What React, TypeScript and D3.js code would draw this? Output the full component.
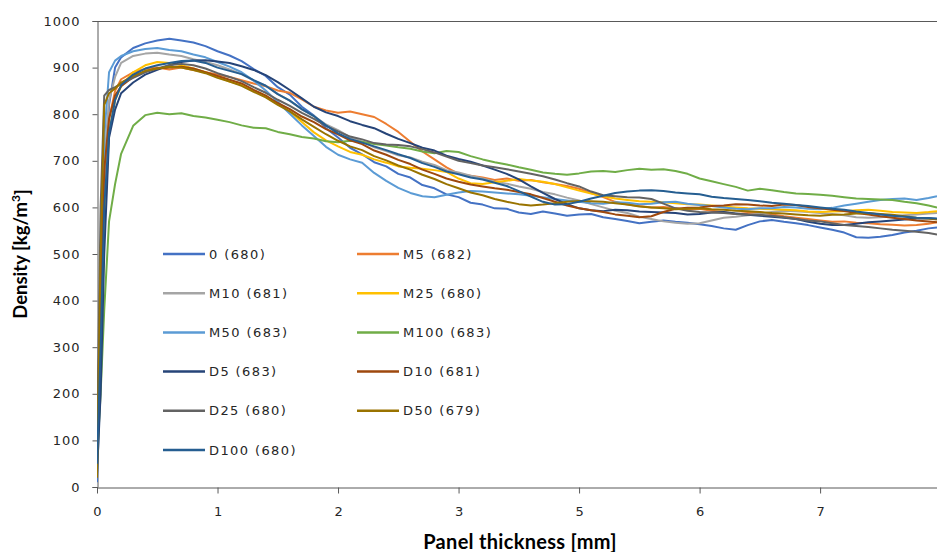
import React, { useEffect, useRef } from 'react';
import * as d3 from 'd3';

// depth positions along the axis (axis units, one unit per tick)
const depth = [0, 0.03, 0.06, 0.1, 0.15, 0.2, 0.3, 0.4, 0.5, 0.6, 0.7, 0.8, 0.9,
  1.0, 1.1, 1.2, 1.3, 1.4, 1.5, 1.6, 1.7, 1.8, 1.9,
  2.0, 2.1, 2.2, 2.3, 2.4, 2.5, 2.6, 2.7, 2.8, 2.9,
  3.0, 3.1, 3.2, 3.3, 3.4, 3.5, 3.6, 3.7, 3.8, 3.9,
  4.0, 4.1, 4.2, 4.3, 4.4, 4.5, 4.6, 4.7, 4.8, 4.9,
  5.0, 5.1, 5.2, 5.3, 5.4, 5.5, 5.6, 5.7, 5.8, 5.9,
  6.0, 6.1, 6.2, 6.3, 6.4, 6.5, 6.6, 6.7, 6.8, 6.9, 6.97];

const xTickLabels = ['0', '1', '2', '3', '5', '6', '7'];
const yTicks = [0, 100, 200, 300, 400, 500, 600, 700, 800, 900, 1000];

const s0 = [10, 250, 600, 820, 900, 922, 942, 952, 958, 962, 958, 954, 946,
  935, 926, 914, 897, 882, 858, 842, 816, 797, 770,
  750, 728, 714, 697, 688, 672, 664, 648, 641, 628,
  622, 610, 606, 598, 597, 589, 586, 591, 587, 582,
  585, 586, 579, 575, 571, 566, 569, 572, 569, 567,
  564, 560, 555, 552, 562, 570, 573, 569, 566, 562,
  557, 552, 546, 536, 535, 537, 541, 546, 550, 555, 557];
const m5 = [100, 300, 600, 790, 850, 875, 890, 897, 900, 896, 900, 895, 890,
  885, 880, 873, 866, 860, 851, 846, 832, 816, 808,
  803, 806, 800, 794, 779, 762, 741, 720, 703, 686,
  672, 668, 664, 659, 662, 657, 659, 654, 650, 646,
  640, 631, 622, 612, 606, 603, 600, 601, 598, 595,
  597, 593, 590, 586, 588, 590, 585, 581, 578, 575,
  572, 569, 570, 567, 566, 564, 563, 561, 562, 565, 568];
const m10 = [150, 450, 700, 830, 880, 910, 925, 930, 932, 928, 925, 918, 912,
  905, 896, 886, 872, 861, 843, 829, 810, 796, 778,
  766, 751, 741, 729, 721, 712, 707, 698, 691, 680,
  675, 668, 662, 655, 651, 645, 640, 633, 628, 621,
  615, 607, 600, 593, 588, 580, 575, 570, 567, 565,
  566, 572, 578, 580, 583, 586, 590, 593, 592, 590,
  588, 586, 583, 579, 578, 579, 581, 583, 585, 587, 588];
const m25 = [40, 250, 550, 760, 830, 860, 890, 905, 912, 910, 905, 898, 890,
  880, 870, 863, 851, 840, 822, 806, 783, 761, 744,
  731, 719, 713, 703, 696, 688, 685, 683, 680, 676,
  662, 652, 650, 654, 657, 661, 658, 655, 650, 643,
  636, 630, 624, 619, 616, 613, 612, 611, 609, 607,
  606, 604, 602, 600, 598, 597, 596, 595, 594, 591,
  590, 591, 592, 594, 595, 593, 590, 589, 588, 590, 592];
const m50 = [30, 350, 750, 890, 915, 925, 935, 940, 942, 938, 935, 928, 922,
  912, 902, 890, 872, 851, 826, 801, 776, 753, 730,
  713, 703, 696, 674, 657, 642, 631, 624, 622, 627,
  632, 635, 634, 632, 630, 628, 625, 622, 618, 615,
  612, 609, 608, 611, 610, 607, 608, 611, 612, 608,
  605, 603, 600, 597, 596, 598, 598, 601, 600, 597,
  596, 599, 604, 608, 612, 616, 618, 619, 616, 620, 624];
const m100 = [60, 200, 380, 570, 650, 715, 775, 798, 803, 800, 802, 796, 793,
  788, 783, 776, 771, 770, 762, 757, 751, 748, 742,
  740, 743, 741, 736, 733, 729, 726, 720, 716, 721,
  719, 710, 703, 697, 692, 686, 681, 675, 672, 670,
  673, 677, 678, 676, 680, 683, 681, 682, 678, 672,
  662, 656, 650, 644, 636, 640, 637, 633, 630, 629,
  627, 625, 622, 619, 618, 617, 616, 612, 609, 604, 600];
const d5 = [30, 200, 500, 750, 810, 845, 868, 885, 895, 905, 912, 915, 916,
  913, 910, 903, 895, 884, 869, 852, 834, 816, 804,
  796, 785, 777, 770, 758, 747, 738, 728, 722, 711,
  704, 698, 690, 681, 672, 660, 645, 631, 618, 607,
  598, 594, 592, 595, 594, 591, 590, 589, 588, 585,
  586, 589, 590, 587, 584, 582, 580, 578, 575, 569,
  565, 562, 562, 565, 568, 570, 572, 574, 576, 576, 575];
const d10 = [120, 400, 680, 790, 840, 860, 880, 892, 898, 900, 902, 898, 890,
  882, 874, 866, 852, 840, 824, 811, 795, 783, 768,
  757, 744, 736, 722, 713, 702, 693, 681, 672, 662,
  655, 649, 645, 641, 638, 633, 628, 620, 612, 604,
  598, 594, 590, 585, 582, 579, 581, 590, 597, 599,
  600, 603, 604, 607, 606, 604, 603, 606, 605, 601,
  598, 595, 592, 588, 585, 581, 578, 575, 572, 570, 568];
const d25 = [80, 600, 840, 852, 858, 865, 878, 890, 898, 905, 908, 905, 898,
  888, 880, 871, 858, 846, 831, 818, 803, 790, 775,
  763, 752, 746, 738, 735, 734, 731, 725, 718, 709,
  700, 695, 690, 686, 682, 677, 672, 667, 660, 652,
  645, 634, 626, 624, 622, 621, 618, 608, 598, 593,
  590, 589, 588, 586, 585, 584, 582, 579, 575, 572,
  570, 566, 562, 560, 558, 555, 552, 550, 548, 545, 542];
const d50 = [20, 500, 820, 845, 855, 868, 882, 893, 898, 902, 900, 895, 888,
  878, 870, 861, 848, 836, 820, 806, 789, 773, 757,
  743, 731, 723, 710, 701, 690, 681, 670, 661, 650,
  641, 632, 626, 618, 612, 607, 604, 606, 609, 612,
  614, 613, 612, 609, 606, 602, 600, 598, 596, 597,
  598, 596, 595, 593, 592, 590, 588, 587, 585, 583,
  582, 584, 585, 587, 588, 586, 584, 581, 578, 576, 574];
const d100 = [50, 300, 600, 760, 830, 862, 885, 898, 905, 910, 914, 915, 910,
  900, 893, 886, 873, 861, 843, 829, 811, 796, 776,
  759, 747, 739, 731, 723, 714, 706, 695, 687, 677,
  671, 664, 660, 653, 646, 635, 623, 612, 606, 607,
  612, 619, 625, 631, 634, 636, 637, 635, 632, 630,
  628, 623, 620, 618, 616, 613, 610, 608, 605, 603,
  600, 597, 595, 591, 588, 585, 582, 580, 578, 577, 576];

const seriesNames = ['0 (680)', 'M5 (682)', 'M10 (681)', 'M25 (680)', 'M50 (683)', 'M100 (683)',
  'D5 (683)', 'D10 (681)', 'D25 (680)', 'D50 (679)', 'D100 (680)'];
const seriesValues = [s0, m5, m10, m25, m50, m100, d5, d10, d25, d50, d100];
const colors = ['#4472C4', '#ED7D31', '#A5A5A5', '#FFC000', '#5B9BD5', '#70AD47',
  '#264478', '#9E480E', '#636363', '#997300', '#255E91'];

const W = 937;
const H = 552;
const left = 97;
const top = 21;
const right = 937;
const bottom = 487;

export default function App() {
  const ref = useRef<SVGSVGElement>(null);

  useEffect(() => {
    const svg = d3.select(ref.current);
    svg.selectAll('*').remove();

    const x = d3.scaleLinear().domain([0, 6.97]).range([left, right]);
    const y = d3.scaleLinear().domain([0, 1000]).range([bottom, top]);

    svg.append('defs').append('clipPath').attr('id', 'plot')
      .append('rect').attr('x', left).attr('y', top - 2)
      .attr('width', right - left).attr('height', bottom - top + 2);

    const tickFont = 'DejaVu Sans, Verdana, sans-serif';

    // y axis
    const yAxis = svg.append('g').attr('transform', `translate(${left + 0.5},0)`)
      .call(d3.axisLeft(y).tickValues(yTicks).tickFormat(d3.format('d'))
        .tickSize(5).tickPadding(12));
    yAxis.select('.domain').attr('stroke', '#595959');
    yAxis.selectAll('line').attr('stroke', '#595959');
    yAxis.selectAll('text').attr('font-family', tickFont).attr('font-size', 13)
      .attr('letter-spacing', 1).attr('fill', '#262626');

    // x axis
    const xAxis = svg.append('g').attr('transform', `translate(0,${bottom + 0.5})`)
      .call(d3.axisBottom(x).tickValues(d3.range(xTickLabels.length))
        .tickFormat((d, i) => xTickLabels[i]).tickSize(6).tickPadding(13).tickSizeOuter(0));
    xAxis.select('.domain').attr('stroke', '#595959');
    xAxis.selectAll('line').attr('stroke', '#595959');
    xAxis.selectAll('text').attr('font-family', tickFont).attr('font-size', 13)
      .attr('fill', '#262626');

    // top border
    svg.append('line').attr('x1', left).attr('x2', right)
      .attr('y1', top + 0.5).attr('y2', top + 0.5).attr('stroke', '#595959');

    const line = d3.line<number>()
      .x((d, i) => x(depth[i]))
      .y(d => y(d));

    svg.append('g').attr('clip-path', 'url(#plot)')
      .selectAll('path').data(seriesValues).enter().append('path')
      .attr('d', d => line(d))
      .attr('fill', 'none')
      .attr('stroke', (d, i) => colors[i])
      .attr('stroke-width', 2)
      .attr('stroke-linejoin', 'round');

    // legend, two columns
    const legend = svg.append('g');
    seriesNames.forEach((name, i) => {
      const col = i % 2;
      const row = Math.floor(i / 2);
      const lx = col === 0 ? 163 : 357;
      const ly = 254 + row * 39.2;
      legend.append('line').attr('x1', lx).attr('x2', lx + 42)
        .attr('y1', ly).attr('y2', ly)
        .attr('stroke', colors[i]).attr('stroke-width', 2.5);
      legend.append('text').attr('x', lx + 46).attr('y', ly)
        .attr('dy', '0.35em')
        .attr('font-family', tickFont).attr('font-size', 13)
        .attr('letter-spacing', 1.4).attr('fill', '#262626')
        .text(name);
    });

    // axis titles
    svg.append('text').attr('x', 520).attr('y', 542).attr('dy', '0.35em')
      .attr('text-anchor', 'middle').attr('font-family', 'Lato, sans-serif')
      .attr('font-weight', 'bold').attr('font-size', 20).attr('letter-spacing', 0.3)
      .attr('fill', '#000')
      .text('Panel thickness [mm]');

    const yt = svg.append('text').attr('transform', 'translate(21,254) rotate(-90)')
      .attr('dy', '0.35em')
      .attr('text-anchor', 'middle').attr('font-family', 'Lato, sans-serif')
      .attr('font-weight', 'bold').attr('font-size', 18.5).attr('fill', '#000');
    yt.append('tspan').text('Density [kg/m');
    yt.append('tspan').attr('font-size', 12).attr('dy', '-0.6em').text('3');
    yt.append('tspan').attr('dy', '0.45em').text(']');
  }, []);

  return (
    <svg ref={ref} width={W} height={H}
      style={{ position: 'absolute', left: 0, top: 0, background: '#fff' }} />
  );
}
